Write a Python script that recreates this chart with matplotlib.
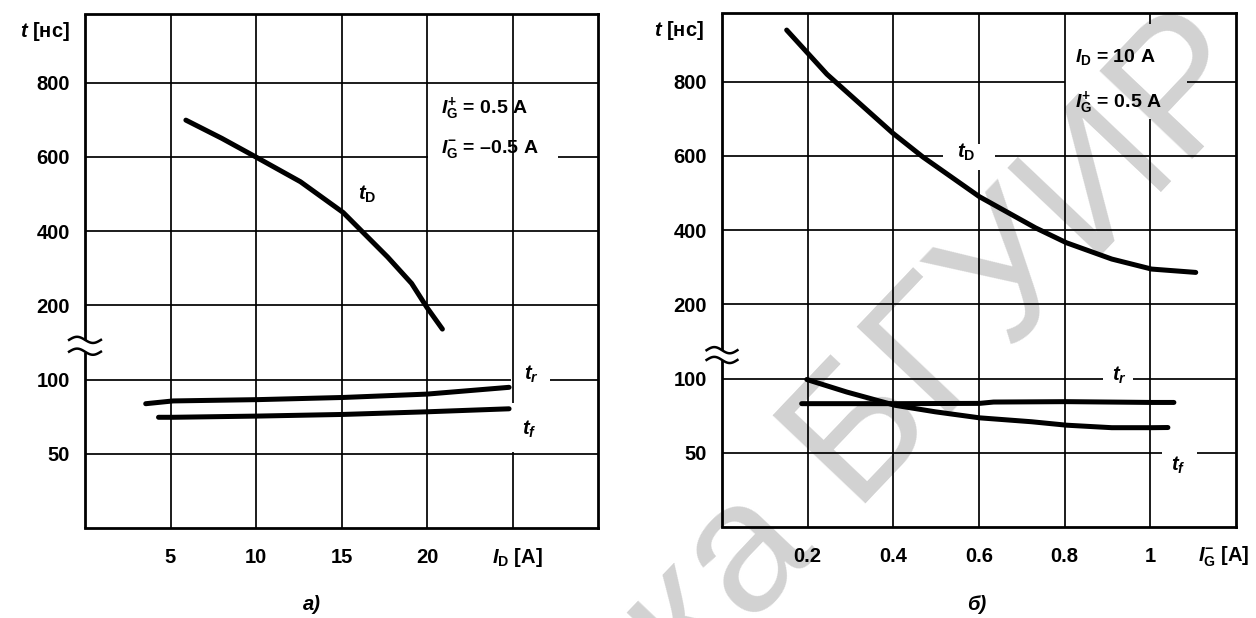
import numpy as np
import matplotlib
matplotlib.use("Agg")
import matplotlib.pyplot as plt
import matplotlib.transforms as mtransforms

plt.rcParams['font.family'] = ['Liberation Sans', 'DejaVu Sans']
plt.rcParams['font.weight'] = 'bold'
plt.rcParams['mathtext.fontset'] = 'custom'
plt.rcParams['mathtext.rm'] = 'Liberation Sans:bold'
plt.rcParams['mathtext.it'] = 'Liberation Sans:italic:bold'
plt.rcParams['mathtext.bf'] = 'Liberation Sans:bold'
plt.rcParams['mathtext.sf'] = 'Liberation Sans:bold'

# ---------------- data (panel a: vs I_D) ----------------
id_td = [5.9, 8.0, 10.1, 12.6, 15.1, 17.7, 19.1, 20.0, 20.9]
td_a = [699, 650, 597, 533, 450, 330, 259, 197, 168]
id_tr = [3.55, 5.15, 10.1, 15.1, 20.0, 24.8]
tr_a = [79.8, 81.9, 82.9, 84.6, 87.3, 93.0]
id_tf = [4.3, 5.15, 10.1, 15.1, 20.0, 24.8]
tf_a = [70.3, 70.3, 71.1, 72.2, 74.0, 76.1]

# ---------------- data (panel b: vs I_G-) ----------------
ig_td = [0.151, 0.245, 0.399, 0.469, 0.601, 0.732, 0.804, 0.910, 1.003, 1.106]
td_b = [939, 820, 661, 597, 490, 406, 366, 322, 295, 286]
ig_tr = [0.186, 0.404, 0.601, 0.634, 0.804, 1.003, 1.055]
tr_b = [79.1, 79.1, 79.3, 80.3, 80.6, 80.0, 80.0]
ig_tf = [0.198, 0.291, 0.404, 0.498, 0.601, 0.723, 0.804, 0.910, 1.003, 1.041]
tf_b = [99.1, 88.2, 77.9, 73.3, 69.3, 66.8, 64.7, 63.2, 63.2, 63.3]

y_ticks = [50, 100, 200, 400, 600, 800]
y_ticklabels = ['50', '100', '200', '400', '600', '800']
xa_ticks = [5, 10, 15, 20]
xa_ticklabels = ['5', '10', '15', '20']
xb_ticks = [0.2, 0.4, 0.6, 0.8, 1.0]
xb_ticklabels = ['0.2', '0.4', '0.6', '0.8', '1']


# broken axis: 50..100 logarithmic cells, 100..200 break cell, 200..800 linear cells
def fwd(y):
    y = np.asarray(y, dtype=float)
    with np.errstate(all='ignore'):
        low = 2 + np.log2(np.maximum(y, 1e-9) / 100.0)
        mid = 2 + (y - 100.0) / 100.0
        high = 3 + (y - 200.0) / 200.0
    return np.where(y <= 100, low, np.where(y <= 200, mid, high))


def inv(c):
    c = np.asarray(c, dtype=float)
    with np.errstate(all='ignore'):
        low = 100.0 * np.power(2.0, c - 2)
        mid = 100.0 + (c - 2) * 100.0
        high = 200.0 + (c - 3) * 200.0
    return np.where(c <= 2, low, np.where(c <= 3, mid, high))


W, H = 1256, 618
fig = plt.figure(figsize=(W / 100, H / 100), dpi=100)

ax_a = fig.add_axes([85 / W, (H - 528) / H, 513 / W, 514 / H])
ax_b = fig.add_axes([722 / W, (H - 527) / H, 514 / W, 514 / H])

Y0, Y1 = 25, 985
LW_GRID = 1.25
LW_CURVE = 3.6
FS = 14.5

# watermark
fig.text(1268 / W, 1 - 80 / H, 'Библиотека БГУИР', rotation=46.5, rotation_mode='anchor',
         ha='right', va='baseline', fontsize=134, color='#d2d2d2', fontweight='normal',
         zorder=-5)


def setup(ax, xmax, xticks, xticklabels):
    ax.set_facecolor('none')
    ax.set_yscale('function', functions=(fwd, inv))
    ax.set_xlim(0, xmax)
    ax.set_ylim(Y0, Y1)
    ax.set_yticks(y_ticks)
    ax.set_yticklabels(y_ticklabels)
    ax.set_xticks(xticks)
    ax.set_xticklabels(xticklabels)
    ax.yaxis.set_minor_locator(matplotlib.ticker.NullLocator())
    ax.tick_params(axis='both', length=0, labelsize=FS)
    ax.tick_params(axis='y', pad=11)
    ax.tick_params(axis='x', pad=14.5)
    for s in ['top', 'right', 'bottom']:
        ax.spines[s].set_linewidth(2.0)
    ax.spines['left'].set_visible(False)


def hseg(ax, y, segs):
    for a, b in segs:
        ax.plot([a, b], [y, y], color='black', lw=LW_GRID, zorder=1, solid_capstyle='butt')


def vseg(ax, x, segs):
    for a, b in segs:
        ax.plot([x, x], [a, b], color='black', lw=LW_GRID, zorder=1, solid_capstyle='butt')


def broken_spine(ax, y_lo, y_hi, half_w):
    tr = ax.transAxes
    ax.plot([0, 0], [0, y_lo], color='black', lw=2.0, transform=tr, clip_on=False, zorder=3,
            solid_capstyle='butt')
    ax.plot([0, 0], [y_hi, 1], color='black', lw=2.0, transform=tr, clip_on=False, zorder=3,
            solid_capstyle='butt')
    t = np.linspace(0, 1, 40)
    amp = 0.006
    for yc in (y_lo, y_hi):
        ax.plot(-half_w + 2 * half_w * t, yc + amp * np.sin(2 * np.pi * t), color='black', lw=1.8,
                transform=tr, clip_on=False, zorder=3)


# ---------------- panel a ----------------
setup(ax_a, 30, xa_ticks, xa_ticklabels)
for xv in [5, 10, 15, 20]:
    vseg(ax_a, xv, [(Y0, Y1)])
vseg(ax_a, 25, [(Y0, 51), (80.7, Y1)])
hseg(ax_a, 800, [(0, 30)])
hseg(ax_a, 600, [(0, 20.06), (27.66, 30)])
hseg(ax_a, 400, [(0, 30)])
hseg(ax_a, 200, [(0, 30)])
hseg(ax_a, 100, [(0, 24.9), (27.2, 30)])
hseg(ax_a, 50, [(0, 30)])
broken_spine(ax_a, 0.343, 0.366, 0.031)

kw = dict(color='black', lw=LW_CURVE, solid_capstyle='round', solid_joinstyle='round', zorder=4)
ax_a.plot(id_td, td_a, **kw)
ax_a.plot(id_tr, tr_a, **kw)
ax_a.plot(id_tf, tf_a, **kw)

ax_a.text(16.5, 498, r'$t_{\rm D}$', fontsize=FS, ha='center', va='center', zorder=5)
ax_a.text(26.1, 107, r'$t_{r}$', fontsize=FS, ha='center', va='center', zorder=5)
ax_a.text(26.0, 63, r'$t_{f}$', fontsize=FS, ha='center', va='center', zorder=5)
ax_a.text(20.8, 719, r'$I_{\rm G}^{+}$ = 0.5 A', fontsize=FS - 0.5, ha='left', va='baseline', zorder=5)
ax_a.text(20.8, 611, r'$I_{\rm G}^{-}$ = –0.5 A', fontsize=FS - 0.5, ha='left', va='baseline', zorder=5)

ax_a.text(-0.029, 0.965, r'$t$ [нс]', transform=ax_a.transAxes, fontsize=FS, ha='right', va='center')
bt_a = mtransforms.blended_transform_factory(ax_a.transData, ax_a.transAxes)
ax_a.text(25.3, -0.068, r'$I_{\rm D}$ [A]', transform=bt_a, fontsize=FS, ha='center', va='baseline')

# ---------------- panel b ----------------
setup(ax_b, 1.2, xb_ticks, xb_ticklabels)
vseg(ax_b, 0.2, [(Y0, Y1)])
vseg(ax_b, 0.4, [(Y0, Y1)])
vseg(ax_b, 0.6, [(Y0, 563), (632, Y1)])
vseg(ax_b, 0.8, [(Y0, Y1)])
vseg(ax_b, 1.0, [(Y0, 700), (956, Y1)])
hseg(ax_b, 800, [(0, 0.8), (1.085, 1.2)])
hseg(ax_b, 600, [(0, 0.516), (0.637, 1.2)])
hseg(ax_b, 400, [(0, 1.2)])
hseg(ax_b, 200, [(0, 1.2)])
hseg(ax_b, 100, [(0, 0.89), (0.96, 1.2)])
hseg(ax_b, 50, [(0, 1.027), (1.109, 1.2)])
broken_spine(ax_b, 0.325, 0.344, 0.03)

ax_b.plot(ig_td, td_b, **kw)
ax_b.plot(ig_tr, tr_b, **kw)
ax_b.plot(ig_tf, tf_b, **kw)

ax_b.text(0.57, 610, r'$t_{\rm D}$', fontsize=FS, ha='center', va='center', zorder=5)
ax_b.text(0.927, 104, r'$t_{r}$', fontsize=FS, ha='center', va='center', zorder=5)
ax_b.text(1.065, 44.3, r'$t_{f}$', fontsize=FS, ha='center', va='center', zorder=5)
ax_b.text(0.824, 854, r'$I_{\rm D}$ = 10 A', fontsize=FS - 0.5, ha='left', va='baseline', zorder=5)
ax_b.text(0.824, 733, r'$I_{\rm G}^{+}$ = 0.5 A', fontsize=FS - 0.5, ha='left', va='baseline', zorder=5)

ax_b.text(-0.035, 0.965, r'$t$ [нс]', transform=ax_b.transAxes, fontsize=FS, ha='right', va='center')
bt_b = mtransforms.blended_transform_factory(ax_b.transData, ax_b.transAxes)
ax_b.text(1.172, -0.068, r'$I_{\rm G}^{-}$ [A]', transform=bt_b, fontsize=FS, ha='center', va='baseline')

# captions
fig.text(312 / W, 1 - 604 / H, 'а)', fontsize=FS, style='italic', ha='center', va='center')
fig.text(977 / W, 1 - 604 / H, 'б)', fontsize=FS, style='italic', ha='center', va='center')

fig.savefig('out.png', dpi=100)
